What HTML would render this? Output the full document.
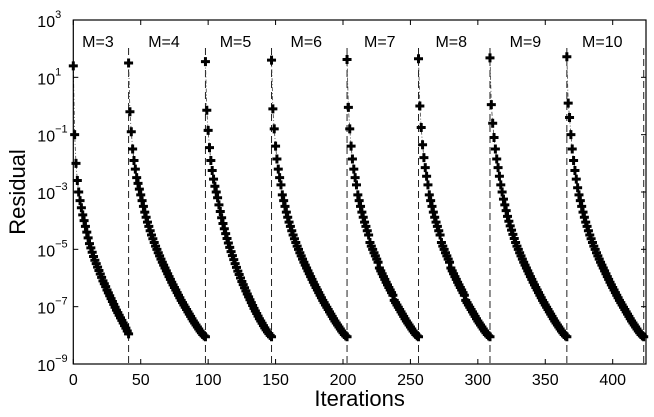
<!DOCTYPE html>
<html><head><meta charset="utf-8"><style>
html,body{margin:0;padding:0;background:#fff;}
svg{display:block;font-family:"Liberation Sans",Arial,sans-serif;}
</style></head><body>
<svg id="chart" width="654" height="417" viewBox="0 0 654 417" xmlns="http://www.w3.org/2000/svg"></svg>
<script>
const segLabels = ["M=3","M=4","M=5","M=6","M=7","M=8","M=9","M=10"];
const segStarts = [0,41,98,147,203,256,309,366];
const segEnds = [41,98,147,203,256,309,366,423];
const seriesM3 = [1.4,-1.0,-2.0,-2.6,-3.0,-3.3,-3.55,-3.8,-4.0,-4.2,-4.4,-4.6,-4.8,-4.95,-5.1,-5.25,-5.38,-5.5,-5.62,-5.74,-5.86,-5.98,-6.1,-6.2,-6.3,-6.42,-6.52,-6.62,-6.72,-6.82,-6.92,-7.02,-7.12,-7.21,-7.3,-7.39,-7.48,-7.57,-7.66,-7.75,-7.85,-7.95];
const seriesM4 = [1.5,-0.2,-0.9,-1.5,-1.9,-2.2,-2.5,-2.7,-2.9,-3.1,-3.3,-3.5,-3.7,-3.88,-4.05,-4.2,-4.35,-4.5,-4.63,-4.76,-4.89,-5.0,-5.12,-5.23,-5.34,-5.45,-5.55,-5.65,-5.75,-5.85,-5.95,-6.05,-6.15,-6.24,-6.33,-6.42,-6.51,-6.6,-6.69,-6.78,-6.86,-6.94,-7.02,-7.1,-7.18,-7.26,-7.34,-7.42,-7.5,-7.57,-7.64,-7.71,-7.78,-7.85,-7.91,-7.97,-8.02,-8.05];
const seriesM5 = [1.55,-0.15,-0.85,-1.45,-1.9,-2.25,-2.55,-2.8,-3.0,-3.2,-3.45,-3.68,-3.9,-4.1,-4.28,-4.45,-4.62,-4.78,-4.93,-5.08,-5.22,-5.36,-5.5,-5.63,-5.76,-5.88,-6.0,-6.12,-6.23,-6.34,-6.45,-6.56,-6.66,-6.76,-6.86,-6.96,-7.06,-7.15,-7.24,-7.33,-7.42,-7.5,-7.58,-7.66,-7.74,-7.81,-7.88,-7.94,-8.0,-8.05];
const seriesM6 = [1.6,-0.1,-0.8,-1.4,-1.85,-2.2,-2.5,-2.75,-3.1,-3.3,-3.5,-3.7,-3.88,-4.05,-4.2,-4.35,-4.5,-4.63,-4.76,-4.89,-5.0,-5.12,-5.23,-5.34,-5.45,-5.55,-5.65,-5.75,-5.85,-5.95,-6.05,-6.15,-6.24,-6.33,-6.42,-6.51,-6.6,-6.69,-6.78,-6.86,-6.94,-7.02,-7.1,-7.18,-7.26,-7.34,-7.42,-7.5,-7.57,-7.64,-7.71,-7.78,-7.85,-7.91,-7.97,-8.02,-8.05];
const seriesM7 = [1.62,-0.05,-0.8,-1.4,-1.85,-2.2,-2.5,-2.75,-3.1,-3.3,-3.5,-3.7,-3.88,-4.05,-4.2,-4.35,-4.5,-4.76,-4.89,-5.0,-5.12,-5.23,-5.34,-5.45,-5.65,-5.75,-5.85,-5.95,-6.05,-6.15,-6.24,-6.33,-6.42,-6.51,-6.6,-6.78,-6.86,-6.94,-7.02,-7.1,-7.18,-7.26,-7.34,-7.42,-7.5,-7.57,-7.64,-7.71,-7.78,-7.85,-7.91,-7.97,-8.02,-8.05];
const seriesM8 = [1.65,0.0,-0.75,-1.35,-1.8,-2.15,-2.45,-2.75,-3.1,-3.3,-3.5,-3.7,-3.88,-4.05,-4.2,-4.35,-4.5,-4.76,-4.89,-5.0,-5.12,-5.23,-5.34,-5.45,-5.65,-5.75,-5.85,-5.95,-6.05,-6.15,-6.24,-6.33,-6.42,-6.51,-6.6,-6.78,-6.86,-6.94,-7.02,-7.1,-7.18,-7.26,-7.34,-7.42,-7.5,-7.57,-7.64,-7.71,-7.78,-7.85,-7.91,-7.97,-8.02,-8.05];
const seriesM9 = [1.68,0.05,-0.6,-1.1,-1.5,-1.85,-2.15,-2.45,-2.75,-3.0,-3.25,-3.45,-3.65,-3.85,-4.02,-4.18,-4.33,-4.48,-4.62,-4.76,-4.89,-5.0,-5.12,-5.23,-5.34,-5.45,-5.55,-5.65,-5.75,-5.85,-5.95,-6.05,-6.15,-6.24,-6.33,-6.42,-6.51,-6.6,-6.69,-6.78,-6.86,-6.94,-7.02,-7.1,-7.18,-7.26,-7.34,-7.42,-7.5,-7.57,-7.64,-7.71,-7.78,-7.85,-7.91,-7.97,-8.02,-8.05];
const seriesM10 = [1.72,0.1,-0.4,-1.0,-1.5,-1.9,-2.25,-2.55,-2.85,-3.1,-3.3,-3.5,-3.7,-3.88,-4.05,-4.2,-4.35,-4.5,-4.63,-4.76,-4.89,-5.0,-5.12,-5.23,-5.34,-5.45,-5.55,-5.65,-5.75,-5.85,-5.95,-6.05,-6.15,-6.24,-6.33,-6.42,-6.51,-6.6,-6.69,-6.78,-6.86,-6.94,-7.02,-7.1,-7.18,-7.26,-7.34,-7.42,-7.5,-7.57,-7.64,-7.71,-7.78,-7.85,-7.91,-7.97,-8.02,-8.05];
const allSeries = [seriesM3,seriesM4,seriesM5,seriesM6,seriesM7,seriesM8,seriesM9,seriesM10];
const xTicks = [0,50,100,150,200,250,300,350,400];
const yTicks = [-9,-7,-5,-3,-1,1,3];

const NS="http://www.w3.org/2000/svg";
const svg=document.getElementById('chart');
const L=73.3,R=646,T=20,B=364,XMAX=424.7,YMIN=-9,YMAX=3;
const xs=v=>L+(v/XMAX)*(R-L);
const ys=v=>B-(v-YMIN)/(YMAX-YMIN)*(B-T);
function mk(tag,attrs,parent){const e=document.createElementNS(NS,tag);for(const k in attrs)e.setAttribute(k,attrs[k]);(parent||svg).appendChild(e);return e;}

segEnds.forEach((e,i)=>{
  const ln=mk('line',{x1:xs(e),x2:xs(e),y1:48,y2:B,stroke:'#222','stroke-width':1,'stroke-dasharray':'7,4'});
  
  
});
segLabels.forEach((lab,i)=>{
  const t=mk('text',{x:(xs(segStarts[i])+xs(segEnds[i]))/2-3,y:47,'font-size':16,'text-anchor':'middle',fill:'#000'});
  t.textContent=lab;
  
  
});
allSeries.forEach((ser,i)=>{
  const g=mk('g',{});
  
  
  const n=ser.length, s=segStarts[i], e=segEnds[i];
  const pts=ser.map((v,j)=>[xs(s+(e-s)*j/(n-1)),ys(v)]);
  mk('polyline',{points:pts.map(p=>p.join(',')).join(' '),fill:'none',stroke:'#444','stroke-width':0.8,'stroke-dasharray':'4,2,1,2'},g);
  pts.forEach(p=>{
    const m=mk('path',{d:`M${p[0]-4.5},${p[1]}H${p[0]+4.5}M${p[0]},${p[1]-4.5}V${p[1]+4.5}`,stroke:'#000','stroke-width':3},g);
    
    
  });
});
const box=mk('rect',{x:L,y:T,width:R-L,height:B-T,fill:'none',stroke:'#000','stroke-width':1.2});


xTicks.forEach(v=>{
  const x=xs(v);
  mk('line',{x1:x,x2:x,y1:B,y2:B-5,stroke:'#000'});
  mk('line',{x1:x,x2:x,y1:T,y2:T+5,stroke:'#000'});
  const t=mk('text',{x:x,y:B+21,'font-size':16,'text-anchor':'middle'});
  t.textContent=v;
  
  
});
yTicks.forEach(v=>{
  const y=ys(v);
  mk('line',{x1:L,x2:L+5,y1:y,y2:y,stroke:'#000'});
  mk('line',{x1:R,x2:R-5,y1:y,y2:y,stroke:'#000'});
  const t=mk('text',{x:L-36,y:y+7,'font-size':16});
  t.textContent='10';
  const sup=mk('tspan',{dy:-9,'font-size':11},t);
  sup.textContent=(v<0?'\u2212':'')+Math.abs(v);
  
  
});
const xt=mk('text',{x:(L+R)/2,y:406,'font-size':22,'text-anchor':'middle'});
xt.textContent='Iterations';


const yt=mk('text',{x:0,y:0,'font-size':22,'text-anchor':'middle',transform:`translate(25,${(T+B)/2}) rotate(-90)`});
yt.textContent='Residual';


</script>
</body></html>
